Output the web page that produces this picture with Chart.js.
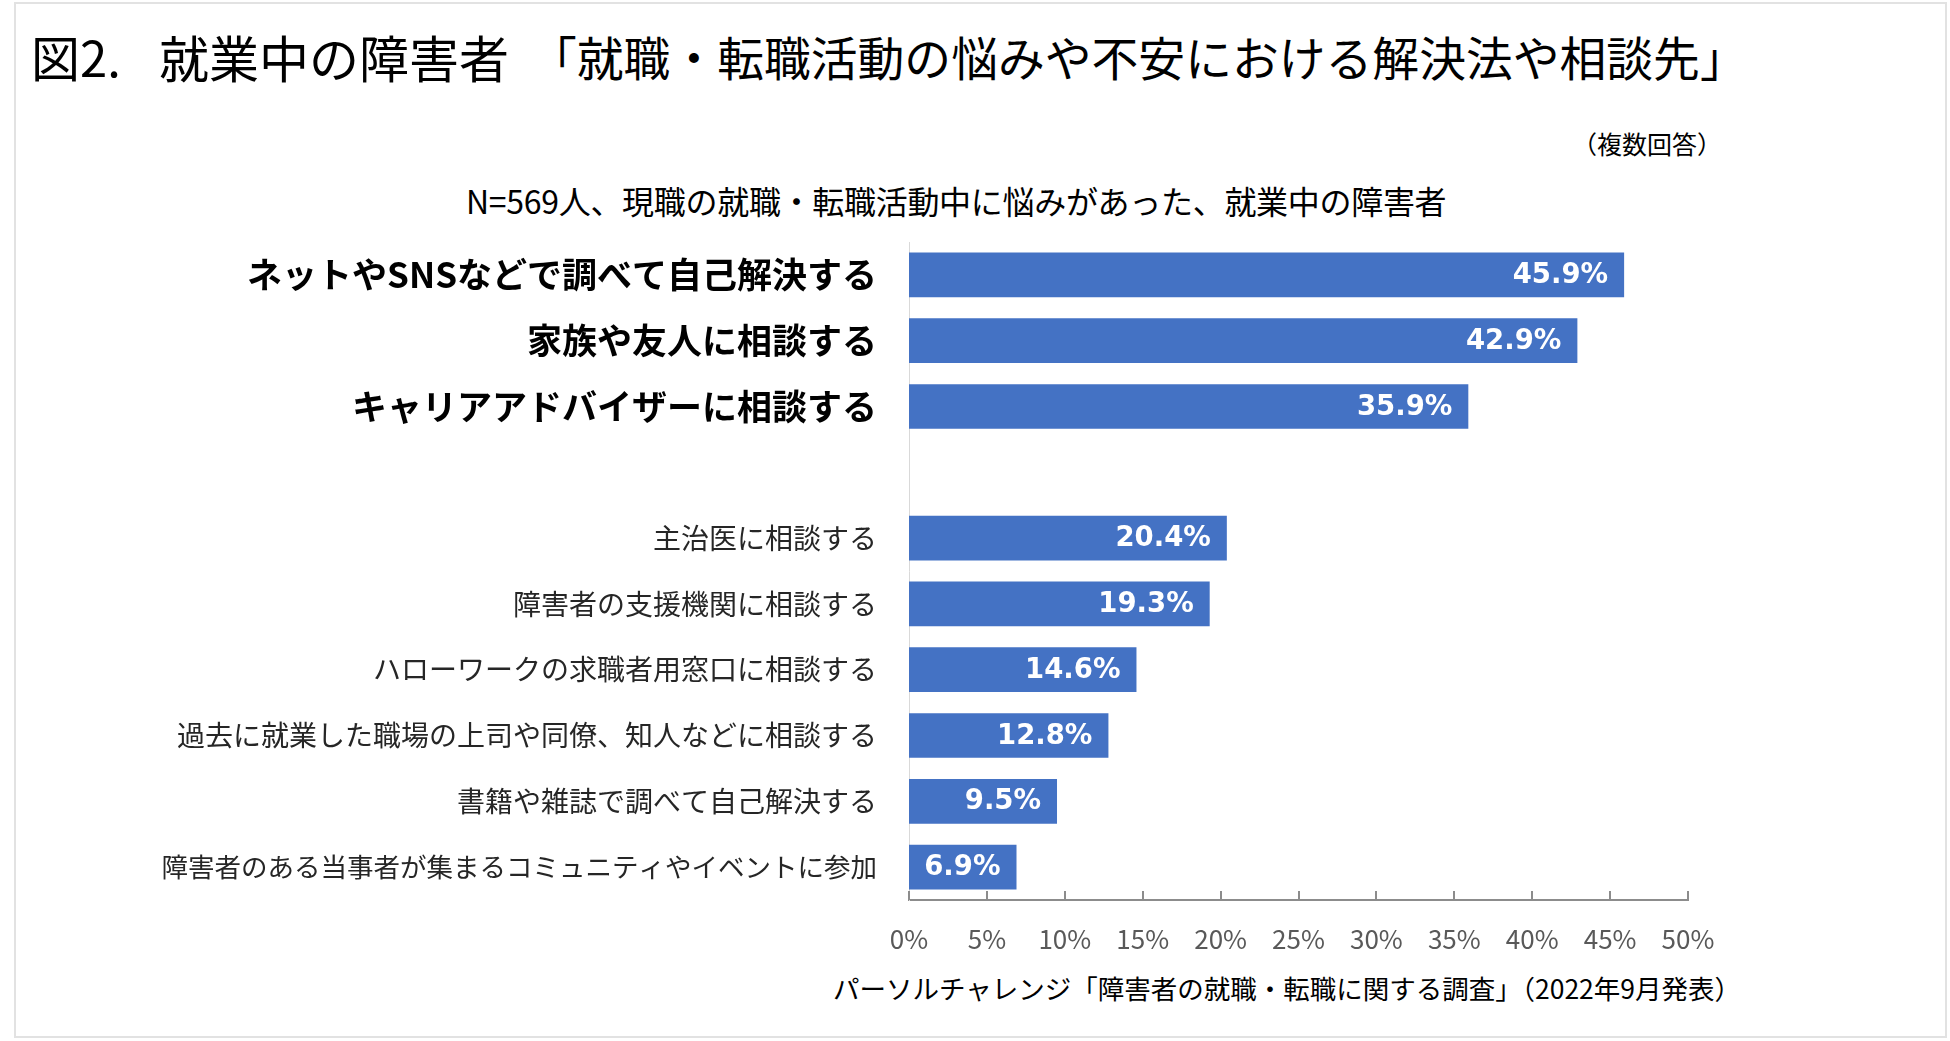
<!DOCTYPE html>
<html lang="ja">
<head>
<meta charset="utf-8">
<title>就業中の障害者 就職・転職活動の悩みや不安における解決法や相談先</title>
<script src="https://cdn.jsdelivr.net/npm/chart.js@4.4.1/dist/chart.umd.min.js"></script>
<style>
  html, body { margin: 0; padding: 0; background: #fff; }
  body { width: 1950px; height: 1041px; position: relative; overflow: hidden;
         font-family: "Noto Sans CJK JP", "Noto Sans", sans-serif; color: #000; }
  .frame { position: absolute; left: 14px; top: 2px; width: 1929px; height: 1032px;
           border: 2px solid #e2e2e2; }
  .txt { position: absolute; white-space: nowrap; line-height: 1; }
  #title1 { left: 31px; top: 31px; font-size: 49px; }
  #title2 { left: 159px; top: 31px; font-size: 50px; }
  #title3 { left: 530px; top: 33px; font-size: 46.8px; }
  #note { left: 1572px; top: 131px; font-size: 25px; }
  #sub { left: 466px; top: 184px; font-size: 32px; letter-spacing: -0.3px; }
  #src { left: 833px; top: 975px; font-size: 26.5px; }
  #wrap { position: absolute; left: 0; top: 0; width: 1950px; height: 1041px; }
</style>
</head>
<body>
<div class="frame"></div>
<div class="txt" id="title1">図2.</div>
<div class="txt" id="title2">就業中の障害者</div>
<div class="txt" id="title3">「就職・転職活動の悩みや不安における解決法や相談先」</div>
<div class="txt" id="note">（複数回答）</div>
<div class="txt" id="sub">N=569人、現職の就職・転職活動中に悩みがあった、就業中の障害者</div>
<div class="txt" id="src">パーソルチャレンジ「障害者の就職・転職に関する調査」（2022年9月発表）</div>
<div id="wrap"><canvas id="answerChart"></canvas></div>

<script>
// 回答項目（空の項目は上位3件との間のすき間）
const categories = [
    'ネットやSNSなどで調べて自己解決する',
    '家族や友人に相談する',
    'キャリアアドバイザーに相談する',
    '',
    '主治医に相談する',
    '障害者の支援機関に相談する',
    'ハローワークの求職者用窓口に相談する',
    '過去に就業した職場の上司や同僚、知人などに相談する',
    '書籍や雑誌で調べて自己解決する',
    '障害者のある当事者が集まるコミュニティやイベントに参加'
];
const shares = [45.9, 42.9, 35.9, null, 20.4, 19.3, 14.6, 12.8, 9.5, 6.9];
const xTicks = [0, 5, 10, 15, 20, 25, 30, 35, 40, 45, 50];

const JP_FONT = '"Noto Sans CJK JP", "Noto Sans", sans-serif';

// 棒の右端内側に白文字で値を描く
const barValueLabels = {
    id: 'barValueLabels',
    afterDatasetsDraw(chart) {
        const ctx = chart.ctx;
        const meta = chart.getDatasetMeta(0);
        ctx.save();
        ctx.font = 'bold 27.5px "DejaVu Sans", Verdana, sans-serif';
        ctx.fillStyle = '#ffffff';
        ctx.textAlign = 'right';
        ctx.textBaseline = 'middle';
        meta.data.forEach((bar, i) => {
            if (shares[i] == null) return;
            ctx.fillText(shares[i].toFixed(1) + '%', bar.x - 16, bar.y + 1);
        });
        ctx.restore();
    }
};

// x軸の目盛り線（軸から上向き）
const innerTickMarks = {
    id: 'innerTickMarks',
    afterDraw(chart) {
        const ctx = chart.ctx;
        const x = chart.scales.x;
        const bottom = chart.chartArea.bottom;
        ctx.save();
        ctx.strokeStyle = '#8c8c8c';
        ctx.lineWidth = 2;
        ctx.beginPath();
        xTicks.forEach(v => {
            const px = Math.round(x.getPixelForValue(v));
            ctx.moveTo(px, bottom);
            ctx.lineTo(px, bottom - 9);
        });
        ctx.stroke();
        ctx.restore();
    }
};

function labelFont(c) {
    if (c.index < 3) return { family: JP_FONT, size: 35, weight: 'bold' };
    // 最後の項目は小書きカナが多く元図では詰まって見える
    if (c.index === 9) return { family: JP_FONT, size: 26.5 };
    return { family: JP_FONT, size: 28 };
}

document.addEventListener('DOMContentLoaded', function () {
    const ctx = document.getElementById('answerChart').getContext('2d');

    new Chart(ctx, {
        type: 'bar',
        data: {
            labels: categories,
            datasets: [{
                data: shares,
                backgroundColor: '#4472C4',
                borderWidth: 0,
                barPercentage: 0.68,
                categoryPercentage: 1.0
            }]
        },
        options: {
            indexAxis: 'y',
            responsive: true,
            maintainAspectRatio: false,
            animation: false,
            devicePixelRatio: 1,
            layout: { padding: { top: 242, right: 262, left: 0, bottom: 0 } },
            plugins: {
                legend: { display: false },
                tooltip: { enabled: false }
            },
            scales: {
                x: {
                    min: 0,
                    max: 50,
                    afterBuildTicks: s => { s.ticks = xTicks.map(v => ({ value: v })); },
                    afterFit: s => { s.height = 141; },
                    grid: { display: false, drawTicks: false },
                    border: { display: true, color: '#8c8c8c', width: 2 },
                    ticks: {
                        padding: 24,
                        color: '#595959',
                        font: { family: JP_FONT, size: 26 },
                        callback: v => v + '%'
                    }
                },
                y: {
                    afterFit: s => { s.width = 909; },
                    grid: { display: false, drawTicks: false },
                    border: { display: true, color: '#d9d9d9', width: 1 },
                    ticks: {
                        padding: 32,
                        autoSkip: false,
                        color: c => c.index < 3 ? '#000000' : '#262626',
                        font: labelFont
                    }
                }
            }
        },
        plugins: [barValueLabels, innerTickMarks]
    });
});
</script>
</body>
</html>
